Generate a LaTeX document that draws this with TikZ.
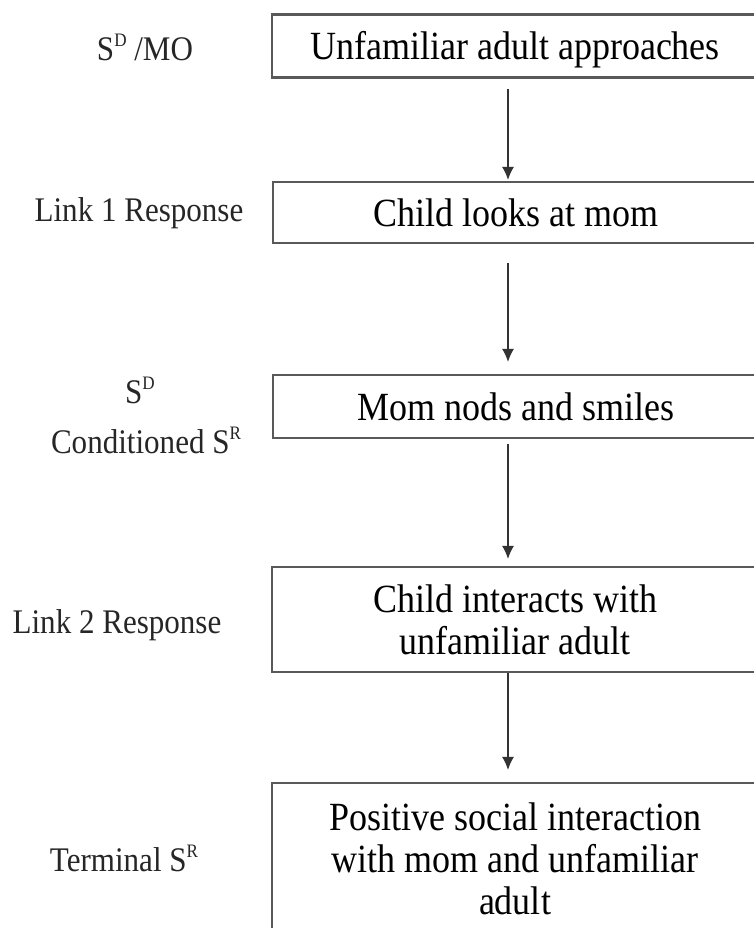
\documentclass[tikz,border=0pt]{standalone}
\usepackage{fontspec}
\setmainfont[FakeStretch=0.9]{Liberation Serif}
\usetikzlibrary{arrows.meta}
\newcommand{\supx}[1]{\raisebox{14pt}{\fontsize{19}{19}\selectfont #1}}
\begin{document}
\begin{tikzpicture}[x=1pt,y=-1pt,
  box/.style={draw=black!65, line width=2.2pt, minimum width=486pt, inner sep=0pt,
    align=center, font=\fontsize{40}{42}\selectfont},
  lab/.style={align=center, inner sep=0pt, font=\fontsize{34.5}{36}\selectfont, text=black!85},
  arr/.style={draw=black!80, line width=1.3pt, -{Latex[length=13pt,width=12pt]}}]
\useasboundingbox (0,0) rectangle (754,928);
\clip (0,0) rectangle (754,928);
\fill[white] (0,0) rectangle (754,928);
\node[box, minimum height=63pt, text depth=2pt] (b1) at (515,46) {Unfamiliar adult approaches};
\node[box, minimum height=61pt] (b2) at (516,212.5) {Child looks at mom};
\node[box, minimum height=63pt] (b3) at (516,406.5) {Mom nods and smiles};
\node[box, minimum height=105pt] (b4) at (515,619.5) {Child interacts with\\unfamiliar adult};
\node[box, minimum height=152pt] (b5) at (515,859) {Positive social interaction\\with mom and unfamiliar\\adult};
\node[lab] (l1) at (145,47) {S\supx{D} /MO};
\node[lab] (l2) at (139,213) {Link 1 Response};
\node[lab] (l3a) at (140,390) {S\supx{D}};
\node[lab] (l3b) at (146,440) {Conditioned S\supx{R}};
\node[lab] (l4) at (117,625) {Link 2 Response};
\node[lab] (l5) at (124,858) {Terminal S\supx{R}};
\draw[arr, shorten <=10pt, shorten >=1pt] ([xshift=-7pt]b1.south) -- ([xshift=-7pt]b1.south |- b2.north);
\draw[arr, shorten <=19pt, shorten >=12pt] ([xshift=-8pt]b2.south) -- ([xshift=-8pt]b2.south |- b3.north);
\draw[arr, shorten <=5pt, shorten >=7pt] ([xshift=-8pt]b3.south) -- ([xshift=-8pt]b3.south |- b4.north);
\draw[arr, shorten <=0pt, shorten >=12pt] ([xshift=-7pt]b4.south) -- ([xshift=-7pt]b4.south |- b5.north);
\end{tikzpicture}
\end{document}
